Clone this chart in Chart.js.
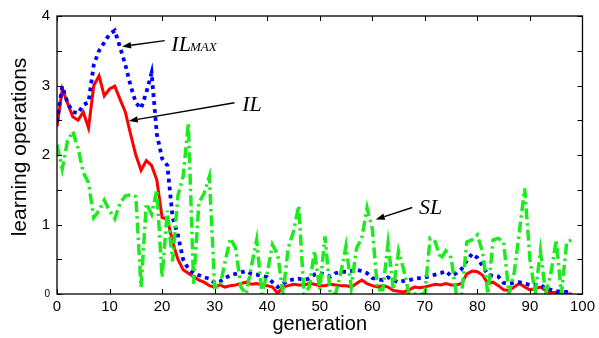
<!DOCTYPE html>
<html>
<head>
<meta charset="utf-8">
<script src="https://cdn.jsdelivr.net/npm/chart.js@4/dist/chart.umd.min.js"></script>
<style>
  html, body { margin: 0; padding: 0; background: #fff; }
  #wrap { width: 599px; height: 338px; position: relative; }
</style>
</head>
<body>
<div id="wrap"><canvas id="c" width="599" height="338"></canvas></div>
<script>
// ---- data ----
const generations = [0,1,2,3,4,5,6,7,8,9,10,11,12,13,14,15,16,17,18,19,20,21,22,23,24,25,26,27,28,29,30,31,32,33,34,35,36,37,38,39,40,41,42,43,44,45,46,47,48,49,50,51,52,53,54,55,56,57,58,59,60,61,62,63,64,65,66,67,68,69,70,71,72,73,74,75,76,77,78,79,80,81,82,83,84,85,86,87,88,89,90,91,92,93,94,95,96,97,98];

const IL = [2.41,2.95,2.75,2.55,2.5,2.62,2.39,3.0,3.14,2.85,2.95,2.99,2.8,2.62,2.3,2.0,1.78,1.92,1.85,1.64,1.1,1.08,0.75,0.5,0.35,0.3,0.25,0.2,0.17,0.12,0.1,0.13,0.1,0.12,0.13,0.15,0.17,0.14,0.15,0.13,0.12,0.1,0.01,0.1,0.12,0.14,0.13,0.13,0.15,0.14,0.12,0.12,0.14,0.13,0.12,0.12,0.1,0.15,0.2,0.15,0.12,0.1,0.12,0.1,0.05,0.04,0.03,0.06,0.1,0.09,0.1,0.12,0.14,0.13,0.15,0.13,0.13,0.15,0.29,0.33,0.32,0.27,0.15,0.17,0.12,0.06,0.05,0.1,0.15,0.1,0.06,0.08,0.1,0.05,0.02,0.02,0.0,0.0,0.0];

const IL_MAX = [2.48,2.99,2.75,2.62,2.6,2.72,2.76,3.3,3.5,3.62,3.74,3.79,3.55,3.3,3.0,2.75,2.67,2.9,3.18,2.3,1.95,1.85,1.1,0.85,0.5,0.36,0.3,0.27,0.24,0.22,0.16,0.18,0.23,0.27,0.29,0.31,0.33,0.29,0.28,0.26,0.24,0.17,0.1,0.15,0.19,0.21,0.22,0.2,0.22,0.28,0.3,0.28,0.25,0.3,0.32,0.32,0.33,0.35,0.33,0.3,0.23,0.21,0.2,0.24,0.2,0.17,0.19,0.2,0.22,0.23,0.24,0.26,0.28,0.3,0.33,0.26,0.3,0.36,0.48,0.58,0.52,0.4,0.28,0.26,0.25,0.16,0.15,0.16,0.17,0.15,0.13,0.13,0.13,0.08,0.06,0.04,0.03,0.03,0.01];

const SL = [2.15,1.8,2.2,2.34,2.1,1.75,1.6,1.1,1.2,1.35,1.2,1.08,1.31,1.41,1.43,1.4,0.1,1.3,1.15,1.5,0.24,1.2,0.47,1.41,1.69,2.46,0.15,1.31,1.45,1.69,0.1,0.1,0.47,0.8,0.66,0.1,0.0,0.4,0.78,0.0,0.3,0.71,0.57,0.0,0.66,0.9,1.27,0.0,0.1,0.62,0.06,0.83,0.0,0.0,0.3,0.69,0.1,0.66,0.8,1.24,0.94,0.06,0.06,0.73,0.06,0.62,0.34,0.0,0.0,0.0,0.0,0.8,0.75,0.5,0.62,0.52,0.0,0.0,0.75,0.78,0.85,0.6,0.0,0.78,0.8,0.75,0.0,0.3,0.9,1.52,0.5,0.0,0.62,0.0,0.3,0.78,0.0,0.75,0.78];

const xTicks = [0,10,20,30,40,50,60,70,80,90,100];
const yTicks = [0,1,2,3,4];
const yTickMarks = [0,0.5,1,1.5,2,2.5,3,3.5,4];

// annotation labels (text) and their anchor points in data units
const annLabels = ['IL', 'IL', 'SL'];
const annSubs = ['MAX', '', ''];
const annTextAt = [[21.76, 3.497], [35.24, 2.63], [68.88, 1.151]];
const annTail = [[20.49, 3.646], [33.78, 2.751], [67.61, 1.245]];
const annTip = [[12.39, 3.562], [13.66, 2.49], [60.66, 1.073]];

const yTitle = 'learning operations';

const toXY = (xs, ys) => xs.map((x, i) => ({x: x, y: ys[i]}));

const framePlugin = {
  id: 'frame',
  afterDatasetsDraw(chart) {
    const {ctx, chartArea: a, scales} = chart;
    const xs = scales.x, ys = scales.y;
    ctx.save();
    ctx.strokeStyle = '#000';
    ctx.lineWidth = 1.3;
    ctx.strokeRect(a.left, a.top, a.right - a.left, a.bottom - a.top);
    ctx.lineWidth = 1;
    const tl = 5;
    ctx.beginPath();
    xs.ticks.forEach(t => {
      const px = Math.round(xs.getPixelForValue(t.value)) + 0.5;
      ctx.moveTo(px, a.bottom); ctx.lineTo(px, a.bottom - tl);
      ctx.moveTo(px, a.top); ctx.lineTo(px, a.top + tl);
    });
    ys.ticks.forEach(t => {
      const py = Math.round(ys.getPixelForValue(t.value)) + 0.5;
      ctx.moveTo(a.left, py); ctx.lineTo(a.left + tl, py);
      ctx.moveTo(a.right, py); ctx.lineTo(a.right - tl, py);
    });
    ctx.stroke();

    // annotations
    ctx.fillStyle = '#000';
    ctx.strokeStyle = '#000';
    for (let i = 0; i < annLabels.length; i++) {
      const x0 = xs.getPixelForValue(annTail[i][0]), y0 = ys.getPixelForValue(annTail[i][1]);
      const x1 = xs.getPixelForValue(annTip[i][0]), y1 = ys.getPixelForValue(annTip[i][1]);
      const ang = Math.atan2(y1 - y0, x1 - x0);
      const hl = 9, hw = 3.2;
      const bx = x1 - hl * Math.cos(ang), by = y1 - hl * Math.sin(ang);
      ctx.lineWidth = 1.4;
      ctx.beginPath(); ctx.moveTo(x0, y0); ctx.lineTo(bx, by); ctx.stroke();
      ctx.beginPath();
      ctx.moveTo(x1, y1);
      ctx.lineTo(bx + hw * Math.sin(ang), by - hw * Math.cos(ang));
      ctx.lineTo(bx - hw * Math.sin(ang), by + hw * Math.cos(ang));
      ctx.closePath(); ctx.fill();

      const tx = xs.getPixelForValue(annTextAt[i][0]), ty = ys.getPixelForValue(annTextAt[i][1]);
      ctx.textBaseline = 'alphabetic';
      ctx.textAlign = 'left';
      ctx.font = 'italic 22px "Liberation Serif", "DejaVu Serif", serif';
      ctx.fillText(annLabels[i], tx, ty);
      if (annSubs[i]) {
        const w = ctx.measureText(annLabels[i]).width;
        ctx.font = 'italic 13px "Liberation Serif", "DejaVu Serif", serif';
        ctx.fillText(annSubs[i], tx + w - 1, ty);
      }
    }

    // y axis title
    ctx.save();
    ctx.translate(20, (a.top + a.bottom) / 2 - 8);
    ctx.rotate(-Math.PI / 2);
    ctx.textAlign = 'center';
    ctx.textBaseline = 'middle';
    ctx.font = '21px "Liberation Sans", Arial, sans-serif';
    ctx.fillText(yTitle, 0, 0);
    ctx.restore();

    ctx.restore();
  }
};

new Chart(document.getElementById('c'), {
  type: 'line',
  data: {
    datasets: [
      { label: 'SL', data: toXY(generations, SL), borderColor: 'rgb(30,235,30)', borderWidth: 3.5,
        borderDash: [11, 4, 2.5, 4], borderCapStyle: 'butt', pointRadius: 0, tension: 0, clip: 0, fill: false },
      { label: 'IL_MAX', data: toXY(generations, IL_MAX), borderColor: '#0000ff', borderWidth: 3.8,
        borderDash: [3.8, 4.2], borderCapStyle: 'butt', pointRadius: 0, tension: 0, clip: 0, fill: false },
      { label: 'IL', data: toXY(generations, IL), borderColor: '#ff0000', borderWidth: 3,
        pointRadius: 0, tension: 0, clip: 0, fill: false }
    ]
  },
  options: {
    responsive: false,
    animation: false,
    events: [],
    layout: { padding: { left: 0, right: 15, top: 8, bottom: 0 } },
    plugins: { legend: { display: false }, tooltip: { enabled: false } },
    scales: {
      x: {
        type: 'linear', min: 0, max: 100,
        afterFit: s => { s.height = 44; },
        afterBuildTicks: s => { s.ticks = xTicks.map(v => ({value: v})); },
        grid: { display: false, drawTicks: false }, border: { display: false },
        ticks: { color: '#000', padding: 4, maxRotation: 0, autoSkip: false,
          font: { family: '"Liberation Sans", Arial, sans-serif', size: 15 } },
        title: { display: true, text: 'generation', color: '#000', padding: { top: 0, bottom: 2 },
          font: { family: '"Liberation Sans", Arial, sans-serif', size: 20 } }
      },
      y: {
        type: 'linear', min: 0, max: 4,
        afterFit: s => { s.width = 57; },
        afterBuildTicks: s => { s.ticks = yTickMarks.map(v => ({value: v})); },
        grid: { display: false, drawTicks: false }, border: { display: false },
        ticks: { color: '#000', padding: 7, autoSkip: false,
          callback: v => (yTicks.includes(v) ? String(v) : ''),
          font: ctx => ({ family: '"Liberation Sans", Arial, sans-serif', size: (ctx.tick && ctx.tick.value === 0) ? 10 : 15 }) },
        title: { display: false }
      }
    }
  },
  plugins: [framePlugin]
});
</script>
</body>
</html>
